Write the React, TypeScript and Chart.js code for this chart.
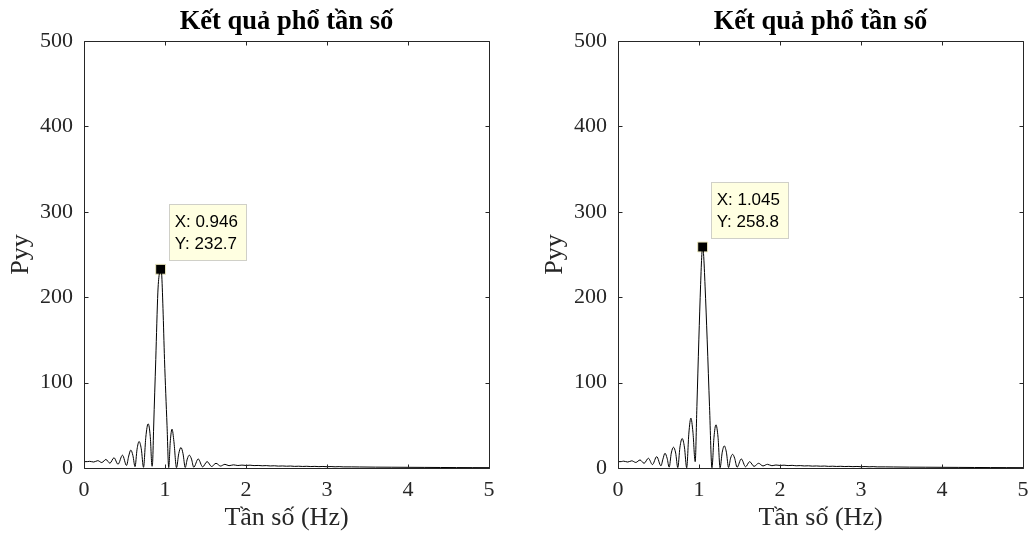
import React, { useEffect, useRef } from "react";
import { Chart, registerables } from "chart.js";

Chart.register(...registerables);

const plotTitle = "Kết quả phổ tần số";
const xAxisLabel = "Tần số (Hz)";
const yAxisLabel = "Pyy";
const xTickValues = [0, 1, 2, 3, 4, 5];
const yTickValues = [0, 100, 200, 300, 400, 500];

const freqLeft = [
  0.0, 0.04, 0.07, 0.12, 0.17, 0.22, 0.27, 0.32, 0.37, 0.42, 0.475, 0.525, 0.552, 0.578, 0.604,
  0.63, 0.655, 0.68, 0.707, 0.735, 0.763, 0.792, 0.818, 0.84, 0.848, 0.86, 0.886, 0.912, 0.932,
  0.946, 0.958, 0.975, 0.994, 1.025, 1.046, 1.066, 1.087, 1.11, 1.142, 1.17, 1.197, 1.222, 1.25,
  1.275, 1.3, 1.327, 1.355, 1.41, 1.465, 1.52, 1.575, 1.63, 1.685, 1.74, 1.79, 1.845, 1.9, 1.95,
  2.0, 2.05, 2.1, 2.15, 2.2, 2.25, 2.3, 2.35, 2.4, 2.45, 2.5, 2.55, 2.6, 2.65, 2.7, 2.75, 2.8,
  2.85, 2.9, 2.95, 3.0, 3.05, 3.1, 3.15, 3.2, 3.3, 3.4, 3.6, 3.8, 4.0, 4.2, 4.4, 4.6, 4.8, 5.0,
];
const pyyLeft = [
  7.4, 7.5, 7.8, 7.0, 8.6, 6.4, 10.0, 5.6, 12.0, 4.4, 15.0, 3.0, 14.0, 21.0, 14.5,
  1.6, 22.0, 31.0, 22.5, 0.8, 36.0, 51.8, 37.0, 2.0, 8.0, 48.0, 127.0, 206.0, 229.0,
  232.7, 228.0, 187.0, 127.0, 50.0, 0.5, 32.0, 45.5, 31.0, 0.4, 17.0, 24.0, 17.0, 0.6,
  10.5, 15.0, 10.5, 0.9, 10.6, 1.3, 7.5, 1.8, 5.5, 2.3, 4.3, 2.7, 3.7, 2.9, 3.4,
  3.0, 3.3, 2.8, 3.0, 2.6, 2.8, 2.4, 2.6, 2.2, 2.4, 2.1, 2.3, 1.9, 2.1, 1.8, 2.0, 1.7,
  1.9, 1.6, 1.8, 1.5, 1.7, 1.4, 1.6, 1.3, 1.3, 1.2, 1.0, 0.9, 0.8, 0.7, 0.6, 0.5, 0.45, 0.4,
];
const tipLeftX = 0.946;
const tipLeftY = 232.7;

const freqRight = [
  0.0, 0.04, 0.07, 0.12, 0.17, 0.22, 0.272, 0.322, 0.375, 0.425, 0.478, 0.53, 0.555, 0.58, 0.606,
  0.632, 0.658, 0.685, 0.712, 0.738, 0.765, 0.792, 0.82, 0.848, 0.875, 0.9, 0.925, 0.953, 0.974,
  0.998, 1.02, 1.035, 1.045, 1.056, 1.075, 1.101, 1.13, 1.16, 1.185, 1.209, 1.235, 1.26, 1.287,
  1.312, 1.338, 1.365, 1.39, 1.415, 1.44, 1.47, 1.522, 1.575, 1.625, 1.68, 1.736, 1.79, 1.845,
  1.9, 1.95, 2.0, 2.05, 2.1, 2.15, 2.2, 2.25, 2.3, 2.35, 2.4, 2.45, 2.5, 2.55, 2.6, 2.65, 2.7,
  2.75, 2.8, 2.85, 2.9, 2.95, 3.0, 3.05, 3.1, 3.15, 3.2, 3.3, 3.4, 3.6, 3.8, 4.0, 4.2, 4.4, 4.6,
  4.8, 5.0,
];
const pyyRight = [
  7.4, 7.5, 8.0, 7.0, 8.4, 6.5, 9.4, 5.5, 11.4, 4.0, 13.3, 2.5, 10.5, 17.3, 11.5,
  1.0, 17.5, 24.3, 17.5, 0.5, 24.5, 34.5, 24.5, 0.3, 41.0, 58.4, 42.0, 7.4, 72.0,
  150.0, 215.0, 250.0, 258.8, 251.0, 213.0, 150.0, 72.0, 0.3, 36.0, 50.6, 36.0, 0.3, 18.5,
  25.9, 18.5, 0.5, 11.5, 16.0, 11.5, 0.9, 10.6, 1.4, 7.4, 1.9, 5.5, 2.4, 4.3,
  2.7, 3.5, 3.0, 3.3, 2.8, 3.1, 2.6, 2.8, 2.4, 2.6, 2.2, 2.4, 2.1, 2.3, 1.9, 2.1, 1.8,
  2.0, 1.7, 1.9, 1.6, 1.8, 1.5, 1.7, 1.4, 1.6, 1.3, 1.3, 1.2, 1.0, 0.9, 0.8, 0.7, 0.6, 0.5,
  0.45, 0.4,
];
const tipRightX = 1.045;
const tipRightY = 258.8;

const SERIF = "'Liberation Serif', 'Times New Roman', serif";
const SANS = "'Liberation Sans', Arial, sans-serif";
const INK = "#262626";

const frameTicks = {
  id: "frameTicks",
  afterDraw(chart: any) {
    const { ctx, chartArea: a, scales } = chart;
    const xs = scales.x;
    const ys = scales.y;
    const L = Math.round(a.left) + 0.5;
    const R = Math.round(a.right) + 0.5;
    const T = Math.round(a.top) + 0.5;
    const B = Math.round(a.bottom) + 0.5;
    const len = 4;
    ctx.save();
    ctx.strokeStyle = INK;
    ctx.lineWidth = 1;
    ctx.beginPath();
    ctx.rect(L, T, R - L, B - T);
    xs.ticks.forEach((t: any) => {
      const p = Math.round(xs.getPixelForValue(t.value)) + 0.5;
      ctx.moveTo(p, B);
      ctx.lineTo(p, B - len);
      ctx.moveTo(p, T);
      ctx.lineTo(p, T + len);
    });
    ys.ticks.forEach((t: any) => {
      const p = Math.round(ys.getPixelForValue(t.value)) + 0.5;
      ctx.moveTo(L, p);
      ctx.lineTo(L + len, p);
      ctx.moveTo(R, p);
      ctx.lineTo(R - len, p);
    });
    ctx.stroke();
    ctx.restore();
  },
};

const datatip = {
  id: "datatip",
  afterDatasetsDraw(chart: any) {
    const { ctx } = chart;
    const meta = chart.getDatasetMeta(1);
    const pt = meta.data[0];
    const raw = chart.data.datasets[1].data[0];
    const mx = pt.x;
    const my = pt.y;
    ctx.save();
    const bx = Math.round(mx + 8) + 0.5;
    const by = Math.round(my - 65) + 0.5;
    ctx.fillStyle = "#ffffe1";
    ctx.fillRect(bx, by, 77, 56);
    ctx.strokeStyle = "#d0d0c8";
    ctx.lineWidth = 1;
    ctx.strokeRect(bx, by, 77, 56);
    ctx.fillStyle = "#000";
    ctx.font = `17px ${SANS}`;
    ctx.textBaseline = "middle";
    ctx.textAlign = "left";
    ctx.fillText(`X: ${raw.x.toFixed(3)}`, mx + 14, my - 47);
    ctx.fillText(`Y: ${raw.y.toFixed(1)}`, mx + 14, my - 25);
    ctx.restore();
  },
};

function SpectrumPanel(props: { freq: number[]; pyy: number[]; tipX: number; tipY: number; left: number }) {
  const ref = useRef<HTMLCanvasElement>(null);
  useEffect(() => {
    const { freq, pyy, tipX, tipY } = props;
    const chart = new Chart(ref.current as HTMLCanvasElement, {
      type: "line",
      data: {
        datasets: [
          {
            data: freq.map((f, i) => ({ x: f, y: pyy[i] })),
            borderColor: "#000",
            borderWidth: 1,
            pointRadius: 0,
            cubicInterpolationMode: "monotone",
            fill: false,
          },
          {
            data: [{ x: tipX, y: tipY }],
            showLine: false,
            pointStyle: "rect",
            pointRadius: 7,
            pointHoverRadius: 7,
            backgroundColor: "#000",
            borderColor: "#eeeac0",
            borderWidth: 1,
          },
        ],
      } as any,
      options: {
        responsive: false,
        animation: false,
        events: [],
        layout: { padding: { left: 0, right: 8, top: 0, bottom: 0 } },
        plugins: {
          legend: { display: false },
          tooltip: { enabled: false },
          title: {
            display: true,
            text: plotTitle,
            fullSize: false,
            color: "#000",
            font: { family: SERIF, size: 26.5, weight: "bold" },
            padding: { top: 5.9, bottom: 3.3 },
          },
        },
        scales: {
          x: {
            type: "linear",
            min: 0,
            max: 5,
            grid: { display: false, drawTicks: false },
            border: { display: false },
            ticks: { color: INK, font: { family: SERIF, size: 22 }, padding: 9.4, maxRotation: 0, autoSkip: false },
            afterBuildTicks: (s: any) => {
              s.ticks = xTickValues.map((v) => ({ value: v }));
            },
            afterFit: (s: any) => {
              s.height = 69;
              s.paddingLeft = 0;
              s.paddingRight = 0;
            },
            title: {
              display: true,
              text: xAxisLabel,
              color: INK,
              font: { family: SERIF, size: 26 },
              padding: { top: 0, bottom: 2.9 },
            },
          },
          y: {
            type: "linear",
            min: 0,
            max: 500,
            grid: { display: false, drawTicks: false },
            border: { display: false },
            ticks: { color: INK, font: { family: SERIF, size: 22 }, padding: 11, autoSkip: false },
            afterBuildTicks: (s: any) => {
              s.ticks = yTickValues.map((v) => ({ value: v }));
            },
            afterFit: (s: any) => {
              s.width = 84;
              s.paddingTop = 0;
              s.paddingBottom = 0;
            },
            title: {
              display: true,
              text: yAxisLabel,
              color: INK,
              font: { family: SERIF, size: 26 },
              padding: { top: 5.5, bottom: 0 },
            },
          },
        },
      } as any,
      plugins: [frameTicks, datatip],
    });
    return () => chart.destroy();
  }, []);
  return (
    <canvas
      ref={ref}
      width={497}
      height={537}
      style={{ position: "absolute", left: props.left, top: 0, width: 497, height: 537 }}
    />
  );
}

export default function App() {
  return (
    <div style={{ position: "absolute", left: 0, top: 0, width: 1031, height: 537, background: "#fff", overflow: "hidden" }}>
      <SpectrumPanel freq={freqLeft} pyy={pyyLeft} tipX={tipLeftX} tipY={tipLeftY} left={0} />
      <SpectrumPanel freq={freqRight} pyy={pyyRight} tipX={tipRightX} tipY={tipRightY} left={534} />
    </div>
  );
}
